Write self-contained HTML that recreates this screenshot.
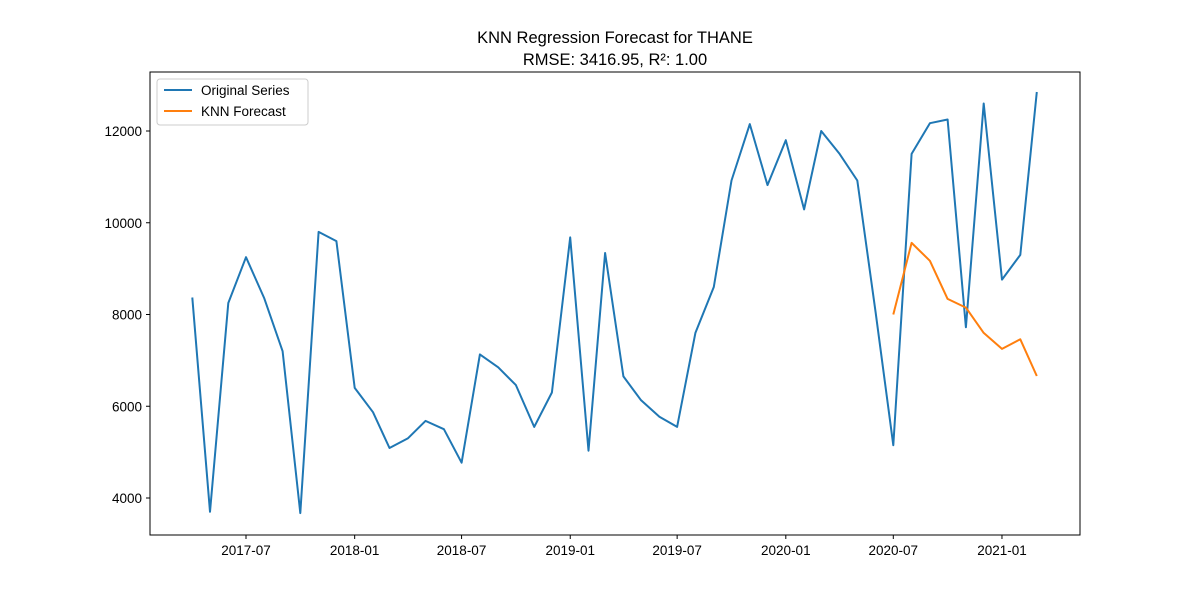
<!DOCTYPE html>
<html><head><meta charset="utf-8"><style>
body{margin:0;background:#fff;font-family:"Liberation Sans","DejaVu Sans",sans-serif}
</style></head><body>
<svg id="c" width="1200" height="600" xmlns="http://www.w3.org/2000/svg">
<text x="615" y="43" text-anchor="middle" font-size="16.5">KNN Regression Forecast for THANE</text>
<text x="615" y="65" text-anchor="middle" font-size="16.5">RMSE: 3416.95, R²: 1.00</text>
<g id="g"></g>
<rect x="150" y="72" width="930" height="463" fill="none" stroke="#000" stroke-width="1"/>
<g>
<rect x="157" y="79" width="151" height="46" fill="#fff" stroke="#ccc" rx="3"/>
<line x1="164" y1="90" x2="192" y2="90" stroke="#1f77b4" stroke-width="2"/>
<text x="201" y="95" font-size="13.5">Original Series</text>
<line x1="164" y1="111" x2="192" y2="111" stroke="#ff7f0e" stroke-width="2"/>
<text x="201" y="116" font-size="13.5">KNN Forecast</text>
</g>
</svg>
<script>
const origValues=[8370,3700,8250,9250,8350,7200,3670,9800,9600,6400,5870,5090,5300,5680,5500,4770,7130,6850,6460,5550,6300,9680,5030,9340,6650,6130,5770,5550,7600,8600,10920,12150,10820,11800,10290,12000,11500,10920,8050,5150,11500,12170,12250,7720,12600,8760,9300,12850];
const origStart=[2017,4];
const fcValues=[8000,9560,9170,8340,8150,7600,7250,7460,6660];
const fcStart=[2020,7];
const yTicks=[4000,6000,8000,10000,12000];
const xTicks=["2017-07","2018-01","2018-07","2019-01","2019-07","2020-01","2020-07","2021-01"];
const NS="http://www.w3.org/2000/svg";
const g=document.getElementById('g');
const t0=Date.UTC(2017,6,1);
const xs=t=>246+(t-t0)/86400000*0.5906;
const ys=v=>498-(v-4000)/2000*91.75;
const monthT=(y,m,i)=>Date.UTC(y,m-1+i,1);
function mk(tag,a){const e=document.createElementNS(NS,tag);for(const k in a)e.setAttribute(k,a[k]);g.appendChild(e);return e;}
yTicks.forEach(v=>{
 const y=ys(v);
 const l=mk('line',{x1:146,x2:150,y1:y,y2:y,stroke:'#000'});
 
 
 const t=mk('text',{x:142,y:y+5,'text-anchor':'end','font-size':13.5});
 t.textContent=v;
 
 
});
xTicks.forEach(s=>{
 const [yy,mm]=s.split('-').map(Number);
 const x=xs(Date.UTC(yy,mm-1,1));
 const l=mk('line',{x1:x,x2:x,y1:535,y2:539,stroke:'#000'});
 
 
 const t=mk('text',{x:x,y:555,'text-anchor':'middle','font-size':13.5});
 t.textContent=s;
 
 
});
function series(vals,start,color,name){
 const pts=vals.map((v,i)=>xs(monthT(start[0],start[1],i)).toFixed(1)+','+ys(v).toFixed(1)).join(' ');
 const p=mk('polyline',{points:pts,fill:'none',stroke:color,'stroke-width':2,'stroke-linejoin':'round'});
 
 
}
series(origValues,origStart,'#1f77b4','original-series-line');
series(fcValues,fcStart,'#ff7f0e','knn-forecast-line');
</script>
</body></html>
